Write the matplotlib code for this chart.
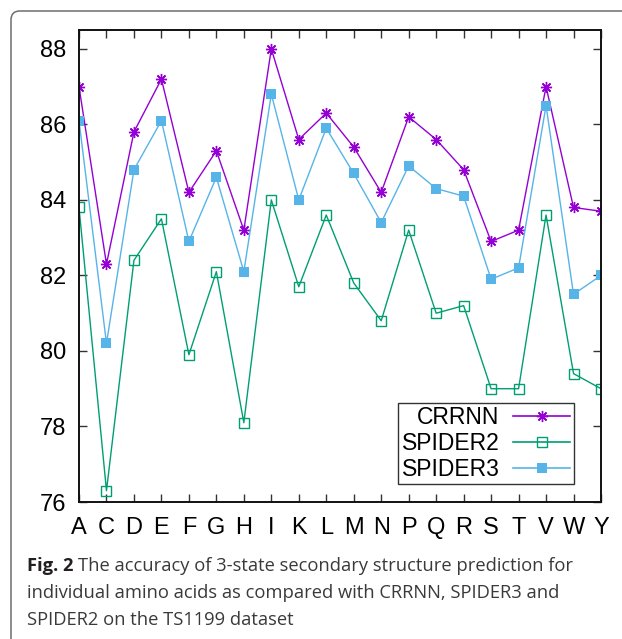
import matplotlib
matplotlib.use("Agg")
import matplotlib.pyplot as plt
from matplotlib.patches import FancyBboxPatch

# amino acids on the x axis
acids = ["A", "C", "D", "E", "F", "G", "H", "I", "K", "L",
         "M", "N", "P", "Q", "R", "S", "T", "V", "W", "Y"]

crrnn = [87.0, 82.3, 85.8, 87.2, 84.2, 85.3, 83.2, 88.0, 85.6, 86.3,
         85.4, 84.2, 86.2, 85.6, 84.8, 82.9, 83.2, 87.0, 83.8, 83.7]
spider2 = [83.8, 76.3, 82.4, 83.5, 79.9, 82.1, 78.1, 84.0, 81.7, 83.6,
           81.8, 80.8, 83.2, 81.0, 81.2, 79.0, 79.0, 83.6, 79.4, 79.0]
spider3 = [86.1, 80.2, 84.8, 86.1, 82.9, 84.6, 82.1, 86.8, 84.0, 85.9,
           84.7, 83.4, 84.9, 84.3, 84.1, 81.9, 82.2, 86.5, 81.5, 82.0]

yticks = [76, 78, 80, 82, 84, 86, 88]

W, H = 622, 639
plot_font = ["Liberation Sans", "DejaVu Sans"]

fig = plt.figure(figsize=(W / 100, H / 100), dpi=100)

# rounded frame around the whole figure (clipped right and bottom)
frame = FancyBboxPatch((11 / W, -0.05), 1.2, (H - 11) / H + 0.05,
                       boxstyle="round,pad=0,rounding_size=0.014",
                       transform=fig.transFigure, fill=False,
                       edgecolor="#6e6e6e", linewidth=1.1)
fig.patches.append(frame)

ax = fig.add_axes([79 / W, 1 - 502 / H, (601 - 79) / W, (502 - 30) / H])

x = list(range(len(acids)))
ax.plot(x, crrnn, color="#9400d3", lw=1.0, marker=(8, 2, 0), ms=8,
        mew=1.0, label="CRRNN")
ax.plot(x, spider2, color="#009e73", lw=1.0, marker="s", ms=6.5,
        mfc="none", mew=1.0, label="SPIDER2")
ax.plot(x, spider3, color="#56b4e9", lw=1.0, marker="s", ms=7,
        mew=0, label="SPIDER3")

ax.set_xlim(0, len(acids) - 1)
ax.set_ylim(76, 88.5)
ax.set_xticks(x)
ax.set_xticklabels(acids, family=plot_font, fontsize=17)
ax.set_yticks(yticks)
ax.set_yticklabels([str(v) for v in yticks], family=plot_font, fontsize=17)
ax.tick_params(axis="both", direction="in", length=6, width=1,
               color="#333333", top=True, right=True)
ax.tick_params(axis="x", pad=11)
ax.tick_params(axis="y", pad=9)
for s in ax.spines.values():
    s.set_linewidth(1.4)
    s.set_color("#111111")

leg = ax.legend(loc="lower right", bbox_to_anchor=(0.948, 0.038),
                markerfirst=False, fancybox=False, framealpha=1,
                edgecolor="#333333", borderpad=0.15, labelspacing=0.12,
                handlelength=2.5, handletextpad=0.6, borderaxespad=0,
                numpoints=1, prop={"family": plot_font, "size": 16.5})
leg.get_frame().set_linewidth(1.0)
for line in leg.get_lines():
    line.set_linewidth(1.2)

# caption
cap_font = "Open Sans"
fs = 13.2
renderer = fig.canvas.get_renderer()
t = fig.text(27 / W, 1 - 571 / H, "Fig. 2", family=cap_font, weight="bold",
             fontsize=fs, color="#231f20", va="baseline")
bb = t.get_window_extent(renderer)
fig.text(bb.x1 / W + 4 / W, 1 - 571 / H,
         "The accuracy of 3-state secondary structure prediction for",
         family=cap_font, fontsize=fs, color="#3a3a3a", va="baseline")
fig.text(27 / W, 1 - 598 / H,
         "individual amino acids as compared with CRRNN, SPIDER3 and",
         family=cap_font, fontsize=fs, color="#3a3a3a", va="baseline")
fig.text(27 / W, 1 - 625 / H, "SPIDER2 on the TS1199 dataset",
         family=cap_font, fontsize=fs, color="#3a3a3a", va="baseline")

fig.savefig("out.png", dpi=100)
